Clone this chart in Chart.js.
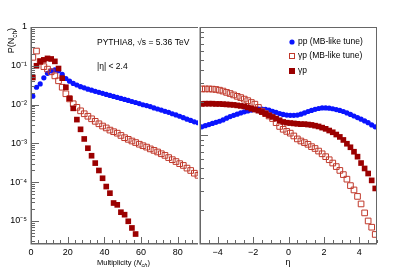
<!DOCTYPE html>
<html lang="en">
<head>
<meta charset="UTF-8" />
<title>PYTHIA8 multiplicity and eta distributions</title>
<script src="https://cdn.jsdelivr.net/npm/chart.js"></script>
<style>
    body { margin: 0; background: #fff; }
    #wrap { position: relative; width: 397px; height: 270px; }
    canvas { position: absolute; top: 0; }
    #multChart { left: 0; }
    #etaChart { left: 199px; }
</style>
</head>
<body>
<div id="wrap">
    <canvas id="multChart" width="199" height="270"></canvas>
    <canvas id="etaChart" width="198" height="270"></canvas>
</div>
<script>
// left panel: multiplicity bins (centres, width 2)
const multBins = [1, 3, 5, 7, 9, 11, 13, 15, 17, 19, 21, 23, 25, 27, 29, 31, 33, 35, 37, 39, 41, 43, 45,
    47, 49, 51, 53, 55, 57, 59, 61, 63, 65, 67, 69, 71, 73, 75, 77, 79, 81, 83, 85, 87, 89, 91];
const ppMult = [0.0165, 0.028, 0.034, 0.049, 0.064, 0.074, 0.078, 0.075, 0.06, 0.047, 0.04, 0.035, 0.032,
    0.029, 0.027, 0.025, 0.0235, 0.022, 0.0207, 0.0195, 0.0183, 0.0172, 0.0162, 0.0153, 0.0144, 0.0136,
    0.0128, 0.012, 0.0113, 0.0106, 0.0099, 0.0094, 0.0089, 0.0082, 0.0077, 0.0072, 0.0067, 0.0063, 0.0058,
    0.0054, 0.005, 0.0046, 0.0042, 0.0039, 0.0036, 0.0034];
const gpMBMult = [0.165, 0.24, 0.13, 0.095, 0.082, 0.07, 0.055, 0.041, 0.028, 0.019, 0.014, 0.0105, 0.0085,
    0.0069, 0.0058, 0.005, 0.0043, 0.0037, 0.0032, 0.0028, 0.0025, 0.0022, 0.002, 0.00183, 0.0016, 0.0014,
    0.00127, 0.00115, 0.00105, 0.00095, 0.00087, 0.0008, 0.00072, 0.00066, 0.0006, 0.00054, 0.00049,
    0.00043, 0.00038, 0.00034, 0.0003, 0.00027, 0.00023, 0.0002, 0.00017, 0.00015];
const gpMult = [0.05, 0.1, 0.128, 0.142, 0.155, 0.15, 0.13, 0.085, 0.048, 0.028, 0.0145, 0.008, 0.0041,
    0.0023, 0.0013, 0.00075, 0.00048, 0.00031, 0.0002, 0.000126, 0.000077, 0.000052, 0.000029, 0.000026,
    0.0000168, 0.0000145, 0.0000098, 0.0000066, 0.0000046];
const multTicks = [0, 20, 40, 60, 80];
const yTickLabels = ['1', '10⁻¹', '10⁻²', '10⁻³', '10⁻⁴', '10⁻⁵'];

// right panel: eta bins (centres, width 0.2)
const etaBins = [-4.9, -4.7, -4.5, -4.3, -4.1, -3.9, -3.7, -3.5, -3.3, -3.1, -2.9, -2.7, -2.5, -2.3, -2.1,
    -1.9, -1.7, -1.5, -1.3, -1.1, -0.9, -0.7, -0.5, -0.3, -0.1, 0.1, 0.3, 0.5, 0.7, 0.9, 1.1, 1.3, 1.5, 1.7,
    1.9, 2.1, 2.3, 2.5, 2.7, 2.9, 3.1, 3.3, 3.5, 3.7, 3.9, 4.1, 4.3, 4.5, 4.7, 4.9];
const ppEta = [1.19, 1.22, 1.25, 1.28, 1.31, 1.34, 1.38, 1.43, 1.48, 1.52, 1.56, 1.6, 1.64, 1.67, 1.7, 1.72,
    1.74, 1.74, 1.73, 1.7, 1.66, 1.62, 1.58, 1.55, 1.53, 1.52, 1.52, 1.53, 1.56, 1.6, 1.65, 1.69, 1.73, 1.76,
    1.78, 1.78, 1.77, 1.75, 1.72, 1.69, 1.65, 1.6, 1.55, 1.5, 1.45, 1.4, 1.35, 1.3, 1.24, 1.19];
const gpMBEta = [2.67, 2.67, 2.67, 2.66, 2.64, 2.6, 2.55, 2.48, 2.42, 2.35, 2.28, 2.22, 2.15, 2.08, 2.0, 1.93,
    1.8, 1.66, 1.58, 1.5, 1.42, 1.3, 1.2, 1.13, 1.08, 1.04, 0.98, 0.92, 0.88, 0.85, 0.82, 0.78, 0.75, 0.71,
    0.67, 0.63, 0.59, 0.55, 0.51, 0.47, 0.43, 0.39, 0.34, 0.31, 0.27, 0.23, 0.19, 0.16, 0.14, 0.12];
const gpEta = [1.94, 1.95, 1.95, 1.95, 1.94, 1.94, 1.93, 1.92, 1.91, 1.9, 1.88, 1.86, 1.84, 1.8, 1.75, 1.72,
    1.68, 1.63, 1.57, 1.52, 1.47, 1.42, 1.37, 1.32, 1.3, 1.29, 1.28, 1.27, 1.26, 1.26, 1.25, 1.24, 1.22, 1.2,
    1.17, 1.14, 1.1, 1.06, 1.01, 0.96, 0.9, 0.83, 0.77, 0.7, 0.63, 0.55, 0.49, 0.44, 0.38, 0.32];
const etaTicks = [-4, -2, 0, 2, 4];

const FONT = "'Liberation Sans', Arial, sans-serif";
const AXIS = '#666';
const BLUE = '#0a14ff';
const RED_OPEN = '#c0392b';
const RED_FILL = '#9b0000';

function pts(xs, ys) {
    return ys.map((v, i) => ({ x: xs[i], y: v }));
}

function logMinor(min, max) {
    const out = [];
    for (let e = -7; e <= 2; e++) {
        for (let m = 2; m <= 9; m++) {
            const v = m * Math.pow(10, e);
            if (v >= min && v <= max) out.push(v);
        }
    }
    return out;
}

function range(a, b, step) {
    const out = [];
    for (let v = a; v <= b + 1e-9; v += step) out.push(+v.toFixed(4));
    return out;
}

// fixed axis size, no extra room for overhanging labels
function fixSize(w, h) {
    return s => {
        if (w !== null) s.width = w;
        if (h !== null) s.height = h;
        s.paddingLeft = s.paddingRight = s.paddingTop = s.paddingBottom = 0;
    };
}

// text with sub/superscripts: parts = [text, size, dy, italic]
function drawRich(ctx, x, y, parts, align) {
    let w = 0;
    parts.forEach(p => {
        ctx.font = (p[3] ? 'italic ' : '') + p[1] + 'px ' + FONT;
        w += ctx.measureText(p[0]).width;
    });
    let cx = align === 'right' ? x - w : align === 'center' ? x - w / 2 : x;
    parts.forEach(p => {
        ctx.font = (p[3] ? 'italic ' : '') + p[1] + 'px ' + FONT;
        ctx.fillText(p[0], cx, y + p[2]);
        cx += ctx.measureText(p[0]).width;
    });
}

// ROOT-like frame: ticks drawn inward
const rootAxes = {
    id: 'rootAxes',
    afterDatasetsDraw(chart, args, o) {
        const { ctx, chartArea: a } = chart;
        const xs = chart.scales.x, ys = chart.scales.y;
        ctx.save();
        ctx.strokeStyle = AXIS;
        ctx.lineWidth = 1;
        ctx.beginPath();
        const xt = (v, len) => {
            if (v < xs.min || v > xs.max) return;
            const p = Math.round(xs.getPixelForValue(v)) + 0.5;
            ctx.moveTo(p, a.bottom);
            ctx.lineTo(p, a.bottom - len);
        };
        const yt = (v, len) => {
            if (v < ys.min || v > ys.max) return;
            const p = Math.round(ys.getPixelForValue(v)) + 0.5;
            ctx.moveTo(a.left, p);
            ctx.lineTo(a.left + len, p);
        };
        o.xMajor.forEach(v => xt(v, 6));
        o.xMinor.forEach(v => xt(v, 3));
        o.yMajor.forEach(v => yt(v, 8));
        o.yMinor.forEach(v => yt(v, 4));
        ctx.moveTo(a.left, a.top + 0.5);
        ctx.lineTo(a.right, a.top + 0.5);
        if (o.rightFrame) {
            ctx.moveTo(a.right - 0.5, a.top);
            ctx.lineTo(a.right - 0.5, a.bottom);
        }
        ctx.stroke();
        ctx.lineWidth = 1.5;
        ctx.beginPath();
        ctx.moveTo(a.left + 0.25, a.top);
        ctx.lineTo(a.left + 0.25, a.bottom + 0.75);
        ctx.lineTo(a.right, a.bottom + 0.75);
        ctx.stroke();
        ctx.restore();
    }
};

const multText = {
    id: 'multText',
    afterDraw(chart) {
        const ctx = chart.ctx;
        ctx.save();
        ctx.fillStyle = '#000';
        ctx.textBaseline = 'middle';
        drawRich(ctx, 97, 43, [['PYTHIA8, √s = 5.36 TeV', 8.5, 0]], 'left');
        drawRich(ctx, 97, 67, [['|η| < 2.4', 8.5, 0]], 'left');
        drawRich(ctx, 97, 263, [['Multiplicity (', 7.5, 0], ['N', 7.5, 0, true], ['ch', 5.5, 2.5, true], [')', 7.5, 0]], 'left');
        ctx.translate(12, 28);
        ctx.rotate(-Math.PI / 2);
        drawRich(ctx, 0, 0, [['P(N', 9, 0], ['ch', 6.5, 3], [')', 9, 0]], 'right');
        ctx.restore();
    }
};

const etaText = {
    id: 'etaText',
    afterDraw(chart) {
        const ctx = chart.ctx;
        const items = chart.data.datasets;
        ctx.save();
        ctx.textBaseline = 'middle';
        ctx.fillStyle = '#000';
        drawRich(ctx, 89, 263, [['η', 9, 0]], 'center');
        const mx = 93, rows = [42, 56, 71];
        items.forEach((d, i) => {
            const y = rows[i];
            ctx.beginPath();
            if (d.pointStyle === 'circle') {
                ctx.fillStyle = d.backgroundColor;
                ctx.arc(mx, y, 2.6, 0, Math.PI * 2);
                ctx.fill();
            } else if (d.borderWidth > 0) {
                ctx.strokeStyle = d.borderColor;
                ctx.lineWidth = 1;
                ctx.strokeRect(mx - 2.5, y - 2.5, 5, 5);
            } else {
                ctx.fillStyle = d.backgroundColor;
                ctx.fillRect(mx - 3, y - 3, 6, 6);
            }
            ctx.fillStyle = '#000';
            drawRich(ctx, 99, y, [[d.label, 8.5, 0]], 'left');
        });
        ctx.restore();
    }
};

function series(label, xs, ys, kind, order) {
    const base = { label: label, data: pts(xs, ys), order: order, pointHoverRadius: 0 };
    if (kind === 'circle') {
        return Object.assign(base, { pointStyle: 'circle', pointRadius: 2.6, backgroundColor: BLUE, borderWidth: 0 });
    }
    if (kind === 'open') {
        return Object.assign(base, { pointStyle: 'rect', pointRadius: 4, backgroundColor: 'rgba(0,0,0,0)', borderColor: RED_OPEN, borderWidth: 1 });
    }
    return Object.assign(base, { pointStyle: 'rect', pointRadius: 4, backgroundColor: RED_FILL, borderWidth: 0 });
}

const tickFont = { family: FONT, size: 9 };

new Chart(document.getElementById('multChart'), {
    type: 'scatter',
    data: {
        datasets: [
            series('pp (MB-like tune)', multBins, ppMult, 'circle', 2),
            series('γp (MB-like tune)', multBins, gpMBMult, 'open', 1),
            series('γp', multBins.slice(0, gpMult.length), gpMult, 'fill', 0)
        ]
    },
    options: {
        responsive: false,
        animation: false,
        events: [],
        devicePixelRatio: 1,
        layout: { autoPadding: false, padding: { top: 27, right: 1, bottom: 0, left: 0 } },
        scales: {
            x: {
                type: 'linear', min: 0, max: 91,
                grid: { display: false, drawTicks: false },
                border: { display: false },
                afterBuildTicks: s => { s.ticks = multTicks.map(v => ({ value: v })); },
                afterFit: fixSize(null, 27),
                ticks: {
                    autoSkip: false, maxRotation: 0,
                    padding: 4, color: '#000', font: tickFont,
                    callback: v => String(v)
                }
            },
            y: {
                type: 'logarithmic', min: 2.7e-6, max: 1,
                grid: { display: false, drawTicks: false },
                border: { display: false },
                afterFit: fixSize(31, null),
                ticks: {
                    autoSkip: false, padding: 4, color: '#000', font: tickFont,
                    callback: v => {
                        const e = Math.log10(v);
                        if (Math.abs(e - Math.round(e)) > 1e-6) return '';
                        return yTickLabels[-Math.round(e)] || '';
                    }
                }
            }
        },
        plugins: {
            legend: { display: false },
            tooltip: { enabled: false },
            rootAxes: {
                xMajor: multTicks, xMinor: range(0, 91, 4),
                yMajor: [1e-5, 1e-4, 1e-3, 1e-2, 1e-1, 1], yMinor: logMinor(2.7e-6, 1)
            }
        }
    },
    plugins: [rootAxes, multText]
});

new Chart(document.getElementById('etaChart'), {
    type: 'scatter',
    data: {
        datasets: [
            series('pp (MB-like tune)', etaBins, ppEta, 'circle', 2),
            series('γp (MB-like tune)', etaBins, gpMBEta, 'open', 1),
            series('γp', etaBins, gpEta, 'fill', 0)
        ]
    },
    options: {
        responsive: false,
        animation: false,
        events: [],
        devicePixelRatio: 1,
        layout: { autoPadding: false, padding: { top: 27, right: 20, bottom: 0, left: 0 } },
        scales: {
            x: {
                type: 'linear', min: -5, max: 5,
                grid: { display: false, drawTicks: false },
                border: { display: false },
                afterBuildTicks: s => { s.ticks = etaTicks.map(v => ({ value: v })); },
                afterFit: fixSize(null, 27),
                ticks: {
                    autoSkip: false, maxRotation: 0,
                    padding: 4, color: '#000', font: tickFont,
                    callback: v => (v < 0 ? '−' + Math.abs(v) : String(v))
                }
            },
            y: {
                type: 'logarithmic', min: 0.1, max: 10,
                grid: { display: false, drawTicks: false },
                border: { display: false },
                afterFit: fixSize(1, null),
                ticks: { display: false }
            }
        },
        plugins: {
            legend: { display: false },
            tooltip: { enabled: false },
            rootAxes: {
                xMajor: etaTicks, xMinor: range(-5, 5, 0.5),
                yMajor: [0.1, 1, 10], yMinor: logMinor(0.1, 10),
                rightFrame: true
            }
        }
    },
    plugins: [rootAxes, etaText]
});
</script>
</body>
</html>
